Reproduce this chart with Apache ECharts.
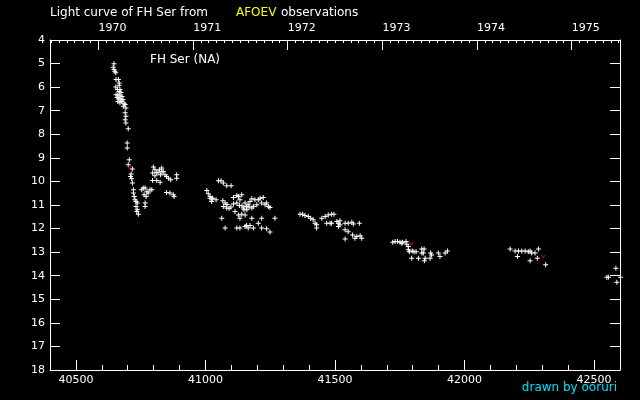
<!DOCTYPE html>
<html>
<head>
<meta charset="utf-8">
<script src="https://cdn.jsdelivr.net/npm/echarts@6/dist/echarts.min.js"></script>
<style>html,body{margin:0;padding:0;background:#000;}#c{width:640px;height:400px;}</style>
</head>
<body>
<div id="c"></div>
<script>
// ---- Data (JD - 2400000, visual magnitude) ----
const jd1969 = [40647,40644,40647,40650,40654,40655,40664,40667,40667,40654,40660,40667,40670,40674,
  40655,40662,40670,40678,40659,40666,40674,40682,40662,40670,40678,40686,40690,40683,40693,40690,40693,
  40690,40693,40702,40698,40698,40706,40702,40718,40713,40711,40715,40718,40722,40722,40725,40728,40732,
  40737,40732,40737,40735,40741];
const mag1969 = [5.01,5.16,5.25,5.33,5.39,5.68,5.68,5.82,5.92,5.99,6.10,6.18,6.10,6.23,
  6.32,6.32,6.36,6.40,6.44,6.49,6.53,6.53,6.61,6.66,6.61,6.70,6.74,6.81,6.88,7.09,7.24,
  7.38,7.52,7.76,8.37,8.58,9.08,9.29,9.47,9.69,9.79,9.89,10.07,10.35,10.49,10.64,10.78,10.85,
  10.92,11.06,11.20,11.28,11.39];

const jd1970 = [40754,40760,40767,40786,40779,40763,40771,40793,40774,40767,40767,
  40799,40805,40796,40812,40822,40831,40837,40844,40850,40827,40812,40825,40796,40857,40866,40889,40889,
  40817,40832,40805,40850,40863,40876,40879];
const mag1970 = [10.35,10.28,10.28,10.35,10.49,10.57,10.64,10.35,10.44,10.92,11.06,
  9.39,9.50,9.64,9.62,9.50,9.43,9.58,9.72,9.79,9.72,9.96,10.04,9.96,9.86,9.93,9.72,9.86,
  9.63,9.59,9.76,10.47,10.49,10.57,10.64];

const jd1971 = [41005,41011,41018,41024,41024,41018,41028,41041,41050,41060,41069,41082,41099,
  41067,41076,41069,41082,41098,41108,41108,41121,41127,41133,41140,41121,41131,41114,41127,41140,41153,
  41133,41146,41159,41153,41165,41172,41179,41179,41185,41198,41191,41204,41211,41223,41217,41230,41243,
  41249,41236,41063,41076,41121,41133,41153,41159,41172,41165,41185,41179,41204,41217,41217,41236,41249,
  41268,41141,41149,41160,41168,41083,41091];
const mag1971 = [10.38,10.52,10.64,10.75,10.85,10.71,10.71,10.78,9.97,9.97,10.07,10.18,10.18,
  10.82,10.92,11.06,11.13,11.09,10.96,10.68,10.60,10.64,10.78,10.57,10.92,11.02,11.28,11.42,11.39,11.42,
  11.56,11.13,11.06,10.92,10.99,10.85,10.74,11.13,11.06,10.99,10.78,10.78,10.71,10.68,10.92,10.99,11.06,
  11.11,10.92,11.56,11.98,11.98,11.98,11.91,11.87,11.87,11.98,11.98,11.56,11.77,11.56,11.98,12.01,12.15,
  11.56,11.03,11.20,11.20,11.08,10.98,11.15];

const jd1972 = [41365,41375,41384,41397,41406,41416,41423,41429,41429,41449,41462,41474,41487,41496,
  41468,41481,41487,41507,41513,41519,41513,41519,41539,41551,41565,41571,41594,41539,41551,41568,41584,
  41577,41597,41539,41603];
const mag1972 = [11.39,11.39,11.45,11.49,11.56,11.63,11.77,11.84,11.98,11.56,11.49,11.42,11.39,11.39,
  11.77,11.77,11.77,11.70,11.77,11.84,11.91,11.67,11.77,11.77,11.73,11.81,11.77,12.05,12.13,12.27,12.34,
  12.41,12.30,12.44,12.41];

const jd1973 = [41723,41732,41741,41751,41758,41761,41774,41777,41783,41783,41787,41798,41805,41813,
  41835,41844,41835,41841,41869,41873,41867,41848,41845,41822,41796,41899,41905,41925,41934];
const mag1973 = [12.58,12.55,12.55,12.58,12.62,12.58,12.55,12.66,12.76,12.90,12.98,12.95,12.98,12.98,
  12.87,12.87,13.04,13.04,13.04,13.12,13.26,13.26,13.37,13.26,13.26,13.04,13.19,13.04,12.95];

const jd1974 = [42176,42195,42208,42221,42234,42246,42253,42259,42272,42285,42204,42253,42281,42313];
const mag1974 = [12.87,12.95,12.95,12.95,12.95,12.98,12.95,13.04,13.04,12.87,13.19,13.37,13.26,13.54];

const jd1975 = [42584,42549,42555,42588,42602];
const mag1975 = [13.68,14.06,14.06,14.28,14.06];

// fainter-than observations (red marks)
const jdFainter = [40706,41793,42304];
const magFainter = [9.41,12.65,13.19];

// ---- Axes ----
const xMin = 40400, xMax = 42600;
const jdTickLabels = [40500,41000,41500,42000,42500];
const yearLabels = ['1970','1971','1972','1973','1974','1975'];
const yearStartJD = [40587.5,40952.5,41317.5,41683.5,42048.5,42413.5];
const magMin = 4, magMax = 18;

const monthJD = [];
for (let y = 1969; y <= 1975; y++) {
  for (let m = 0; m < 12; m++) {
    const v = Date.UTC(y, m, 1) / 86400000 + 40587.5;
    if (v >= xMin && v <= xMax) monthJD.push(v);
  }
}

const FONT = 'DejaVu Sans';
const zip = (a, b) => a.map((v, i) => [v, b[i]]);
const whiteData = [].concat(
  zip(jd1969, mag1969), zip(jd1970, mag1970), zip(jd1971, mag1971),
  zip(jd1972, mag1972), zip(jd1973, mag1973), zip(jd1974, mag1974), zip(jd1975, mag1975));

const plusPath = 'path://M2,0H3V2H5V3H3V5H2V3H0V2H2Z';
const vPath = 'path://M0,0L1,0L2.5,2.5L4,0L5,0L2.5,4Z';

const chart = echarts.init(document.getElementById('c'), null, {renderer: 'canvas'});
const axisWhite = {lineStyle: {color: '#fff', width: 1}};
chart.setOption({
  backgroundColor: '#000',
  animation: false,
  grid: {left: 50, right: 20, top: 40, bottom: 30, containLabel: false},
  xAxis: [
    {type: 'value', position: 'bottom', min: xMin, max: xMax, interval: 100,
      axisLine: {show: true, onZero: false, ...axisWhite},
      axisTick: {show: true, inside: true, length: 5, ...axisWhite},
      axisLabel: {color: '#fff', fontFamily: FONT, fontSize: 11, margin: 5,
        customValues: jdTickLabels, formatter: v => String(v)},
      splitLine: {show: false}},
    {type: 'value', position: 'bottom', min: xMin, max: xMax,
      axisLine: {show: false, onZero: false},
      axisTick: {show: true, inside: true, length: 10, customValues: jdTickLabels, ...axisWhite},
      axisLabel: {show: false}, splitLine: {show: false}},
    {type: 'value', position: 'top', min: xMin, max: xMax,
      axisLine: {show: true, onZero: false, ...axisWhite},
      axisTick: {show: true, inside: true, length: 10, customValues: yearStartJD, ...axisWhite},
      axisLabel: {color: '#fff', fontFamily: FONT, fontSize: 11, margin: 6, align: 'left',
        customValues: yearStartJD,
        formatter: v => { const i = yearStartJD.indexOf(v); return i >= 0 ? yearLabels[i] : ''; }},
      splitLine: {show: false}},
    {type: 'value', position: 'top', min: xMin, max: xMax,
      axisLine: {show: false, onZero: false},
      axisTick: {show: true, inside: true, length: 3, customValues: monthJD, ...axisWhite},
      axisLabel: {show: false}, splitLine: {show: false}}
  ],
  yAxis: [
    {type: 'value', position: 'left', inverse: true, min: magMin, max: magMax, interval: 1,
      axisLine: {show: true, onZero: false, ...axisWhite},
      axisTick: {show: true, inside: true, length: 10, ...axisWhite},
      axisLabel: {color: '#fff', fontFamily: FONT, fontSize: 11, margin: 5},
      splitLine: {show: false}},
    {type: 'value', position: 'right', inverse: true, min: magMin, max: magMax, interval: 1,
      axisLine: {show: true, onZero: false, ...axisWhite},
      axisTick: {show: true, inside: true, length: 10, ...axisWhite},
      axisLabel: {show: false}, splitLine: {show: false}}
  ],
  series: [
    {type: 'scatter', xAxisIndex: 0, yAxisIndex: 0, data: whiteData, clip: false,
      symbol: plusPath, symbolSize: 5, itemStyle: {color: '#fff', opacity: 1}, silent: true},
    {type: 'scatter', xAxisIndex: 0, yAxisIndex: 0, data: zip(jdFainter, magFainter), clip: false,
      symbol: vPath, symbolSize: [5, 4], itemStyle: {color: '#e00000', opacity: 1}, silent: true}
  ],
  graphic: [
    {type: 'text', x: 50, y: 13, style: {text: 'Light curve of FH Ser from', fill: '#fff',
      font: '12px "DejaVu Sans"', verticalAlign: 'middle', align: 'left'}},
    {type: 'text', x: 236, y: 13, style: {text: 'AFOEV', fill: '#ffff00',
      font: '12px "DejaVu Sans"', verticalAlign: 'middle', align: 'left'}},
    {type: 'text', x: 281, y: 13, style: {text: 'observations', fill: '#fff',
      font: '12px "DejaVu Sans"', verticalAlign: 'middle', align: 'left'}},
    {type: 'text', x: 150, y: 60, style: {text: 'FH Ser (NA)', fill: '#fff',
      font: '12px "DejaVu Sans"', verticalAlign: 'middle', align: 'left'}},
    {type: 'text', x: 617, y: 388, style: {text: 'drawn by ooruri', fill: '#00e0ff',
      font: '12px "DejaVu Sans"', verticalAlign: 'middle', align: 'right'}}
  ]
});
</script>
</body>
</html>
